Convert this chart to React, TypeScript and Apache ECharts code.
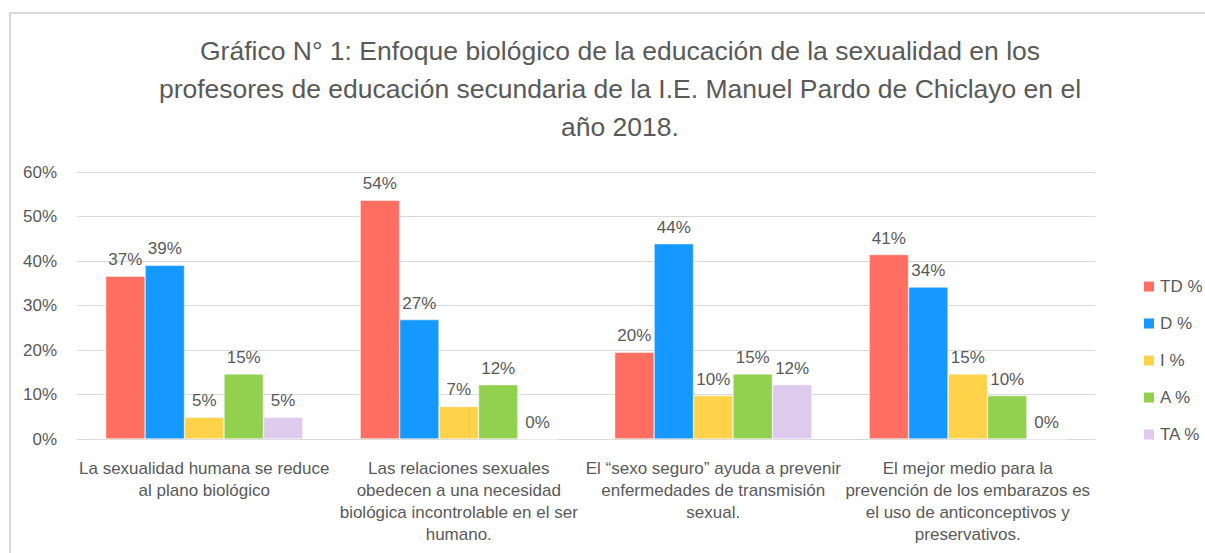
import React, { useEffect, useRef } from "react";
import * as echarts from "echarts";

const titleText =
  "Gráfico N° 1: Enfoque biológico de la educación de la sexualidad en los\nprofesores de educación secundaria de la I.E. Manuel Pardo de Chiclayo en el\naño 2018.";

const categories = [
  "La sexualidad humana se reduce\nal plano biológico",
  "Las relaciones sexuales\nobedecen a una necesidad\nbiológica incontrolable en el ser\nhumano.",
  "El “sexo seguro” ayuda a prevenir\nenfermedades de transmisión\nsexual.",
  "El mejor medio para la\nprevención de los embarazos es\nel uso de anticonceptivos y\npreservativos.",
];

const seriesNames = ["TD %", "D %", "I %", "A %", "TA %"];
const tdValues = [36.59, 53.66, 19.51, 41.46];
const dValues = [39.02, 26.83, 43.9, 34.15];
const iValues = [4.88, 7.32, 9.76, 14.63];
const aValues = [14.63, 12.2, 14.63, 9.76];
const taValues = [4.88, 0, 12.2, 0];
const colors = ["#FF6F61", "#1699FF", "#FFD24A", "#92D050", "#DDCAEC"];
const yTicks = [0, 10, 20, 30, 40, 50, 60];

const FONT = "'Liberation Sans Narrow', 'Arial Narrow', 'Liberation Sans', sans-serif";
const GREY = "#595959";

export default function App() {
  const ref = useRef<HTMLDivElement>(null);
  useEffect(() => {
    if (!ref.current) return;
    const chart = echarts.init(ref.current, null, { renderer: "svg" });
    const all = [tdValues, dValues, iValues, aValues, taValues];
    chart.setOption({
      animation: false,
      backgroundColor: "#fff",
      textStyle: { fontFamily: FONT },
      title: {
        text: titleText,
        left: 615,
        top: 27,
        textAlign: "center",
        textStyle: {
          fontFamily: FONT,
          fontSize: 26.5,
          fontWeight: "normal",
          color: GREY,
          lineHeight: 38,
        },
      },
      graphic: [
        {
          type: "rect",
          shape: { x: 10, y: 13, width: 1200, height: 550 },
          style: { fill: "none", stroke: "#D9D9D9", lineWidth: 2 },
          silent: true,
        },
      ],
      legend: {
        orient: "vertical",
        left: 1137,
        top: 273,
        itemWidth: 12,
        itemHeight: 12,
        itemGap: 20,
        icon: "rect",
        textStyle: { fontFamily: FONT, fontSize: 17, color: GREY },
        data: seriesNames,
      },
      grid: { left: 77, right: 110, top: 172, bottom: 114, containLabel: false },
      xAxis: {
        type: "category",
        data: categories,
        axisLine: { lineStyle: { color: "#D9D9D9" } },
        axisTick: { show: false },
        axisLabel: {
          interval: 0,
          fontFamily: FONT,
          fontSize: 17,
          color: GREY,
          lineHeight: 22,
          margin: 18,
          align: "center",
        },
      },
      yAxis: {
        type: "value",
        min: 0,
        max: 60,
        interval: 10,
        axisLine: { show: false },
        axisTick: { show: false },
        splitLine: { lineStyle: { color: "#D9D9D9" } },
        axisLabel: {
          fontFamily: FONT,
          fontSize: 17,
          color: GREY,
          margin: 20,
          formatter: (v: number) => (yTicks.includes(v) ? v + "%" : ""),
        },
      },
      series: seriesNames.map((name, i) => ({
        name,
        type: "bar",
        data: all[i],
        barGap: "0%",
        barCategoryGap: "22.5%",
        itemStyle: { color: colors[i], borderColor: "#fff", borderWidth: 0.5 },
        label: {
          show: true,
          position: "top",
          distance: 8,
          fontFamily: FONT,
          fontSize: 17,
          color: GREY,
          formatter: (p: any) => Math.round(p.value) + "%",
        },
      })),
    });
    return () => chart.dispose();
  }, []);
  return (
    <div
      ref={ref}
      style={{ position: "fixed", left: 0, top: 0, width: 1205, height: 553 }}
    />
  );
}
